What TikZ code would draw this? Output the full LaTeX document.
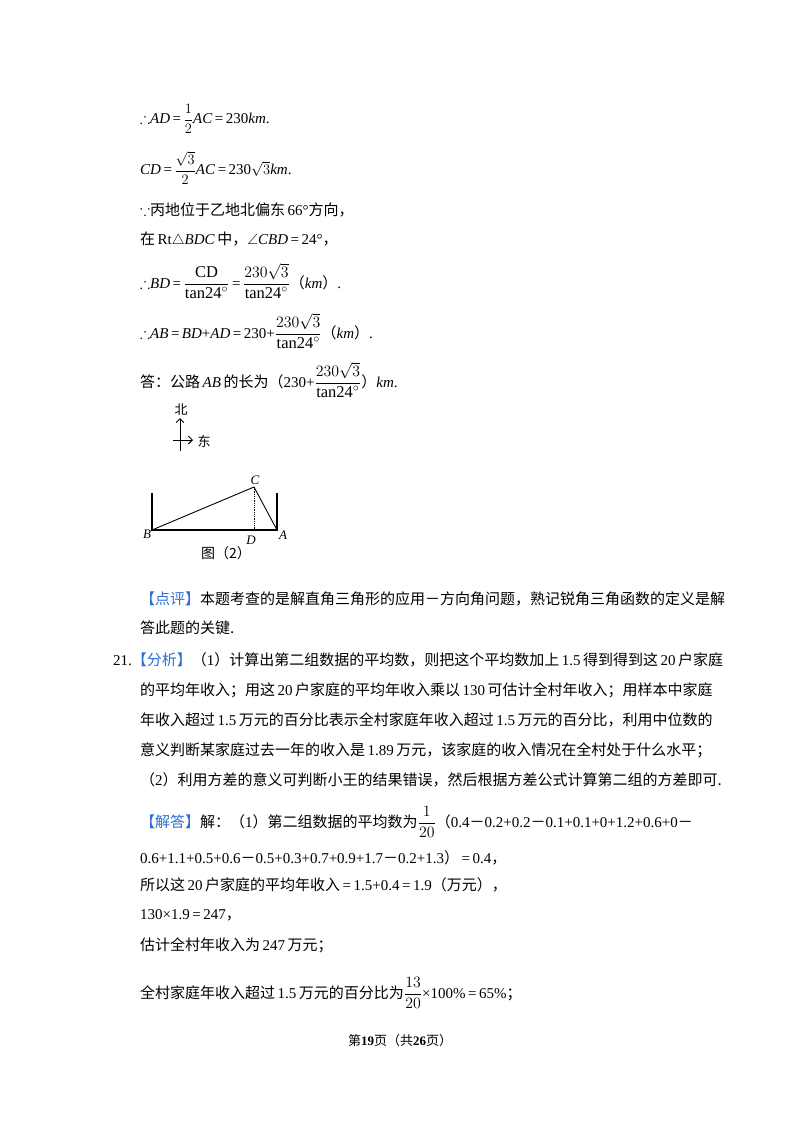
\documentclass[tikz,border=0pt]{standalone}
\usepackage{amsmath,amssymb}
\usepackage{fontspec}
\usetikzlibrary{arrows.meta}
\setmainfont{Liberation Serif}
\newfontfamily\cjk{Noto Sans CJK SC}
\newcommand{\zh}[1]{{\cjk #1}}
\newcommand{\tanf}{\mathrm{tan24}^{\circ}}
\newcommand{\fr}[2]{\scalebox{1.1}{$\dfrac{#1}{#2}$}}
\newcommand{\sfr}[2]{$\dfrac{#1}{#2}$}
\begin{document}
\begin{tikzpicture}[x=1pt,y=-1pt,
  ln/.style={anchor=west,inner sep=0pt,font=\fontsize{15}{18}\selectfont},
  lab/.style={inner sep=0pt,font=\fontsize{13}{15}\selectfont\itshape},
  tk/.style={line width=1.1pt}]
\useasboundingbox (0,0) rectangle (800,1132);
\fill[white] (0,0) rectangle (800,1132);
\node[ln] (l1) at (140,119) {$\therefore$\textit{AD}\,=\,\sfr{1}{2}\textit{AC}\,=\,230\textit{km}.};
\node[ln] (l2) at (140,168) {\textit{CD}\,=\,\sfr{\sqrt{3}}{2}\textit{AC}\,=\,230$\sqrt{3}$\textit{km}.};
\node[ln] (l3) at (140,210) {$\because$\zh{丙地位于乙地北偏东}\,66°\zh{方向，}};
\node[ln] (l4) at (140,240) {\zh{在}\,Rt$\triangle$\textit{BDC}\,\zh{中，}$\angle$\textit{CBD}\,=\,24°\zh{，}};
\node[ln] (l5) at (140,281) {$\therefore$\textit{BD}\,=\,\fr{\mathrm{CD}}{\tanf}\,=\,\fr{230\sqrt{3}}{\tanf}\zh{（}\textit{km}\zh{）}.};
\node[ln] (l6) at (140,331) {$\therefore$\textit{AB}\,=\,\textit{BD}+\textit{AD}\,=\,230+\fr{230\sqrt{3}}{\tanf}\zh{（}\textit{km}\zh{）}.};
\node[ln] (l7) at (140,380) {\zh{答：公路}\,\textit{AB}\,\zh{的长为（}230+\fr{230\sqrt{3}}{\tanf}\zh{）}\textit{km}.};
% figure
\coordinate (cs) at (180,451);
\coordinate (cn) at (180,418);
\coordinate (cw) at (173,440);
\coordinate (ce) at (193,440);
\draw[-{Straight Barb[length=4pt,width=8pt]},line width=0.9pt] (cs) -- (cn);
\draw[-{Straight Barb[length=4pt,width=8pt]},line width=0.9pt] (cw) -- (ce);
\node[inner sep=0pt,font=\cjk\fontsize{13}{15}\selectfont] (nb) at (181,410) {北};
\node[inner sep=0pt,font=\cjk\fontsize{13}{15}\selectfont] (nd) at (204,441) {东};
\coordinate (B) at (152,530);
\coordinate (A) at (277,530);
\coordinate (C) at (254,487);
\coordinate (D) at (254,530);
\coordinate (Bt) at (152,493);
\coordinate (At) at (277,493);
\draw[tk] (Bt) -- (B) -- (A) -- (At);
\draw[line width=0.9pt] (B) -- (C) -- (A);
\draw[densely dotted,line width=0.8pt] (C) -- (D);
\node[lab] (lB) at (147,534) {B};
\node[lab] (lA) at (283,535) {A};
\node[lab] (lC) at (255,480) {C};
\node[lab] (lD) at (251,540) {D};
\node[inner sep=0pt,font=\cjk\fontsize{14}{16}\selectfont] (cap) at (226,553) {图（2）};
% comments
\node[ln] (p1) at (140,599) {\color[HTML]{2E6FD1}\zh{【点评】}\color{black}\zh{本题考查的是解直角三角形的应用－方向角问题，熟记锐角三角函数的定义是解}};
\node[ln] (p2) at (140,628) {\zh{答此题的关键.}};
\node[ln] (q1) at (113,660) {21.\color[HTML]{2E6FD1}\zh{【分析】}\color{black}\zh{（}1\zh{）计算出第二组数据的平均数，则把这个平均数加上}\,1.5\,\zh{得到得到这}\,20\,\zh{户家庭}};
\node[ln] (q2) at (140,690) {\zh{的平均年收入；用这}\,20\,\zh{户家庭的平均年收入乘以}\,130\,\zh{可估计全村年收入；用样本中家庭}};
\node[ln] (q3) at (140,720) {\zh{年收入超过}\,1.5\,\zh{万元的百分比表示全村家庭年收入超过}\,1.5\,\zh{万元的百分比，利用中位数的}};
\node[ln] (q4) at (140,750) {\zh{意义判断某家庭过去一年的收入是}\,1.89\,\zh{万元，该家庭的收入情况在全村处于什么水平；}};
\node[ln] (q5) at (140,780) {\zh{（}2\zh{）利用方差的意义可判断小王的结果错误，然后根据方差公式计算第二组的方差即可.}};
\node[ln] (r1) at (140,822) {\color[HTML]{2E6FD1}\zh{【解答】}\color{black}\zh{解：（}1\zh{）第二组数据的平均数为}\fr{1}{20}\zh{（}0.4\zh{－}0.2+0.2\zh{－}0.1+0.1+0+1.2+0.6+0\zh{－}};
\node[ln] (r2) at (140,858) {0.6+1.1+0.5+0.6\zh{－}0.5+0.3+0.7+0.9+1.7\zh{－}0.2+1.3\zh{）}\,=\,0.4\zh{，}};
\node[ln] (r3) at (140,885) {\zh{所以这}\,20\,\zh{户家庭的平均年收入}\,=\,1.5+0.4\,=\,1.9\zh{（万元），}};
\node[ln] (r4) at (140,915) {130×1.9\,=\,247\zh{，}};
\node[ln] (r5) at (140,945) {\zh{估计全村年收入为}\,247\,\zh{万元；}};
\node[ln] (r6) at (140,993) {\zh{全村家庭年收入超过}\,1.5\,\zh{万元的百分比为}\fr{13}{20}×100\%\,=\,65\%\zh{；}};
\node[inner sep=0pt,font=\fontsize{13}{15}\selectfont] (ft) at (400,1041) {\zh{第}\textbf{19}\zh{页（共}\textbf{26}\zh{页）}};
\end{tikzpicture}
\end{document}
